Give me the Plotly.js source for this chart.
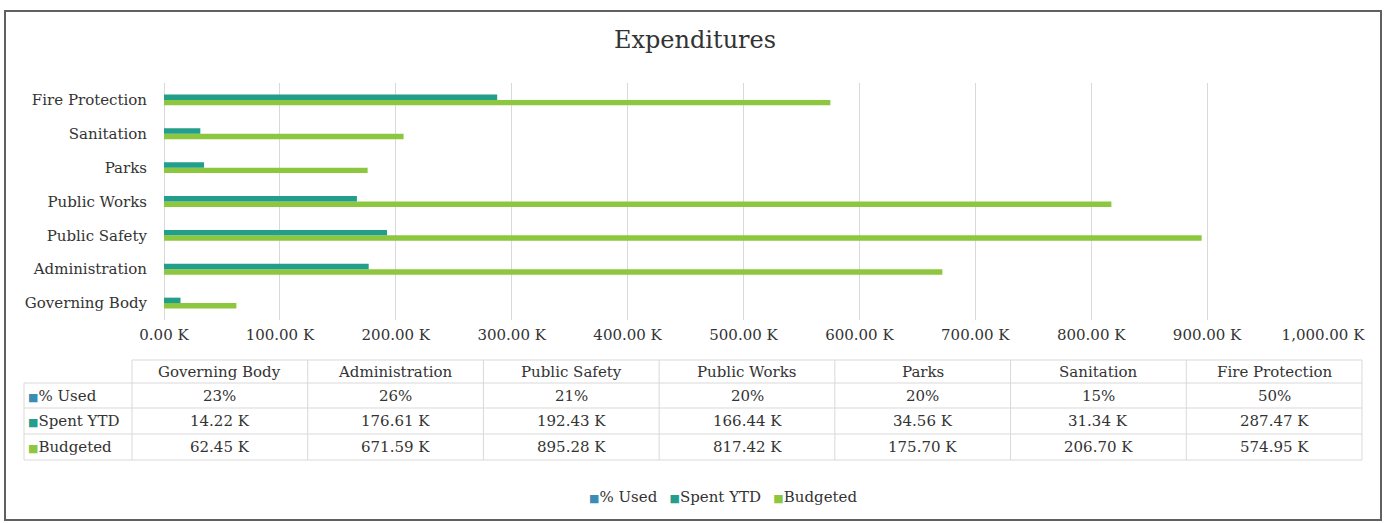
<!DOCTYPE html>
<html>
<head>
<meta charset="utf-8">
<script src="https://cdn.plot.ly/plotly-3.0.1.min.js"></script>
<style>html,body{margin:0;padding:0;background:#fff;}#chart{width:1385px;height:523px;}</style>
</head>
<body>
<div id="chart"></div>
<script>
// ---- data ----
const categories = ["Governing Body","Administration","Public Safety","Public Works","Parks","Sanitation","Fire Protection"];
const usedPct = [0.23,0.26,0.21,0.20,0.20,0.15,0.50];
const spentK = [14.22,176.61,192.43,166.44,34.56,31.34,287.47];
const budgetK = [62.45,671.59,895.28,817.42,175.70,206.70,574.95];
const seriesNames = ["% Used","Spent YTD","Budgeted"];
const seriesColors = ["#3b8db5","#239e8a","#8dc63f"];

// ---- geometry helpers (pixels -> paper) ----
const W = 1385, H = 523;
const M = {l:164, r:62, t:83, b:203};
const PW = W - M.l - M.r, PH = H - M.t - M.b;
const px = x => (x - M.l) / PW;
const py = y => (H - M.b - y) / PH;

const FONT = "DejaVu Serif, Liberation Serif, serif";
const TXT = "#333333";

const traces = [
  {type:"bar", orientation:"h", name:seriesNames[2], y:categories, x:budgetK,
   marker:{color:seriesColors[2]}, offsetgroup:"g1", hoverinfo:"x+y"},
  {type:"bar", orientation:"h", name:seriesNames[1], y:categories, x:spentK,
   marker:{color:seriesColors[1]}, offsetgroup:"g2", hoverinfo:"x+y"},
  {type:"bar", orientation:"h", name:seriesNames[0], y:categories, x:usedPct.map(v => v/1000),
   marker:{color:seriesColors[0]}, offsetgroup:"g2", hoverinfo:"y"}
];

// ---- data table drawn with shapes + annotations ----
const shapes = [];
const annotations = [];
const tblLeft = 24, hdrLeft = 132, tblRight = 1362;
const rowLines = [360, 383, 408, 434, 460];
const colW = (tblRight - hdrLeft) / categories.length;
const lineStyle = {color:"#d9d9d9", width:1};
const TFS = 15;

shapes.push({type:"line", xref:"paper", yref:"paper", x0:px(hdrLeft), x1:px(tblRight), y0:py(rowLines[0]), y1:py(rowLines[0]), line:lineStyle});
for (let i = 1; i < rowLines.length; i++) {
  shapes.push({type:"line", xref:"paper", yref:"paper", x0:px(tblLeft), x1:px(tblRight), y0:py(rowLines[i]), y1:py(rowLines[i]), line:lineStyle});
}
shapes.push({type:"line", xref:"paper", yref:"paper", x0:px(tblLeft), x1:px(tblLeft), y0:py(rowLines[1]), y1:py(rowLines[4]), line:lineStyle});
for (let c = 0; c <= categories.length; c++) {
  const x = hdrLeft + c * colW;
  shapes.push({type:"line", xref:"paper", yref:"paper", x0:px(x), x1:px(x), y0:py(rowLines[0]), y1:py(rowLines[4]), line:lineStyle});
}

const fmtK = v => v.toFixed(2) + " K";
const fmtPct = v => Math.round(v * 100) + "%";
const rowValues = [usedPct.map(fmtPct), spentK.map(fmtK), budgetK.map(fmtK)];

categories.forEach((cat, c) => {
  const cx = hdrLeft + (c + 0.5) * colW;
  annotations.push({xref:"paper", yref:"paper", x:px(cx), y:py((rowLines[0]+rowLines[1])/2),
    text:cat, showarrow:false, xanchor:"center", yanchor:"middle", font:{family:FONT, size:TFS, color:TXT}});
  for (let r = 0; r < 3; r++) {
    annotations.push({xref:"paper", yref:"paper", x:px(cx), y:py((rowLines[r+1]+rowLines[r+2])/2),
      text:rowValues[r][c], showarrow:false, xanchor:"center", yanchor:"middle", font:{family:FONT, size:TFS, color:TXT}});
  }
});
for (let r = 0; r < 3; r++) {
  annotations.push({xref:"paper", yref:"paper", x:px(tblLeft + 2), y:py((rowLines[r+1]+rowLines[r+2])/2),
    text:'<span style="color:' + seriesColors[r] + ';font-size:11px">■</span>' + seriesNames[r],
    showarrow:false, xanchor:"left", yanchor:"middle", font:{family:FONT, size:TFS, color:TXT}});
}

// legend (drawn as text keys, like the source's bottom legend)
const legendText = seriesNames.map((n, i) =>
  '<span style="color:' + seriesColors[i] + ';font-size:11px">■</span>' + n).join('\u2002 ');
annotations.push({xref:"paper", yref:"paper", x:px(723), y:py(497), text:legendText,
  showarrow:false, xanchor:"center", yanchor:"middle", font:{family:FONT, size:TFS, color:TXT}});

// outer frame
shapes.push({type:"rect", xref:"paper", yref:"paper", x0:px(5), x1:px(1381), y0:py(11), y1:py(520),
  line:{color:"#606060", width:2}, fillcolor:"rgba(0,0,0,0)", layer:"below"});

const layout = {
  width:W, height:H,
  margin:M,
  paper_bgcolor:"#ffffff", plot_bgcolor:"#ffffff",
  font:{family:FONT, color:TXT, size:15},
  title:{text:"Expenditures", font:{family:FONT, size:24, color:TXT},
    xref:"container", x:695/W, xanchor:"center", yref:"container", y:1 - 40/H, yanchor:"middle"},
  barmode:"group",
  bargap:0.68,
  bargroupgap:0,
  xaxis:{range:[0,1000], dtick:100, tick0:0, tickformat:",.2f", ticksuffix:" K",
    showgrid:true, gridcolor:"#d9d9d9", gridwidth:1, zeroline:true, zerolinecolor:"#d9d9d9",
    showline:false, ticks:"", ticklabelstandoff:4, tickfont:{family:FONT, size:15, color:TXT}, fixedrange:true},
  yaxis:{type:"category", categoryorder:"array", categoryarray:categories,
    showgrid:false, zeroline:false, showline:false, ticks:"", ticklabelstandoff:16,
    tickfont:{family:FONT, size:15, color:TXT}, fixedrange:true},
  showlegend:false,
  shapes:shapes,
  annotations:annotations
};

Plotly.newPlot("chart", traces, layout, {displayModeBar:false, staticPlot:true});
</script>
</body>
</html>
